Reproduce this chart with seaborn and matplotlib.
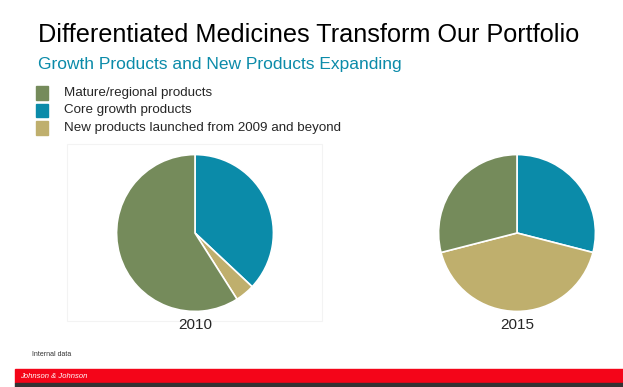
import matplotlib
matplotlib.use("Agg")
import matplotlib.pyplot as plt
import seaborn as sns
from matplotlib.patches import Rectangle

# data (shares in %)
categories = ["Core growth products", "New products launched from 2009 and beyond", "Mature/regional products"]
years = ["2010", "2015"]
share_2010 = [37, 4, 59]
share_2015 = [29, 42, 29]
legend_order = ["Mature/regional products", "Core growth products",
                "New products launched from 2009 and beyond"]

colors = {"Mature/regional products": "#758B5B",
          "Core growth products": "#0B8BA9",
          "New products launched from 2009 and beyond": "#BFAF6D"}

sns.set_style("white")
plt.rcParams['font.family'] = ['Liberation Sans', 'DejaVu Sans']

W, H = 623, 387
fig = plt.figure(figsize=(W / 100, H / 100), dpi=100)


def px_axes(x0, y0, w, h):
    # pixel box (top-left origin) -> figure axes
    return fig.add_axes([x0 / W, 1 - (y0 + h) / H, w / W, h / H])


# titles
fig.text(38 / W, 1 - 35 / H, "Differentiated Medicines Transform Our Portfolio",
         fontsize=18.2, color="black", va="center", ha="left")
fig.text(38 / W, 1 - 64 / H, "Growth Products and New Products Expanding",
         fontsize=12.5, color="#0B8BA9", va="center", ha="left")

# legend
for i, name in enumerate(legend_order):
    yc = 93 + i * 17.5
    fig.patches.append(Rectangle((36 / W, 1 - (yc + 6.5) / H), 12 / W, 13 / H,
                                 transform=fig.transFigure, color=colors[name]))
    fig.text(64 / W, 1 - yc / H, name, fontsize=9.6, va="center", ha="left")

# faint frame around first pie
fig.patches.append(Rectangle((67 / W, 1 - 321 / H), 255 / W, 177 / H,
                             transform=fig.transFigure, fill=False,
                             edgecolor="#F3F3F3", lw=0.8))

centers = [(195, 233), (517, 233)]
r = 80
for (cx, cy), yr, vals in zip(centers, years, [share_2010, share_2015]):
    ax = px_axes(cx - r, cy - r, 2 * r, 2 * r)
    ax.pie(vals, colors=[colors[c] for c in categories], startangle=90,
           counterclock=False, radius=1,
           wedgeprops=dict(edgecolor="white", linewidth=1.2))
    ax.set_xlim(-1.02, 1.02)
    ax.set_ylim(-1.02, 1.02)
    ax.set_aspect("equal")
    ax.axis("off")
    fig.text(cx / W, 1 - 325 / H, yr, fontsize=11, ha="center", va="center")

# footer
fig.text(32 / W, 1 - 355 / H, "Internal data", fontsize=5, color="#333333",
         va="center", ha="left")
fig.patches.append(Rectangle((15 / W, 1 - 383 / H), (W - 15) / W, 14 / H,
                             transform=fig.transFigure, color="#F40519"))
fig.patches.append(Rectangle((15 / W, 0), (W - 15) / W, 4 / H,
                             transform=fig.transFigure, color="#333333"))
fig.text(20 / W, 1 - 376 / H, "Johnson & Johnson", fontsize=5.5, color="white",
         style="italic", va="center", ha="left")

fig.savefig("out.png", dpi=100)
